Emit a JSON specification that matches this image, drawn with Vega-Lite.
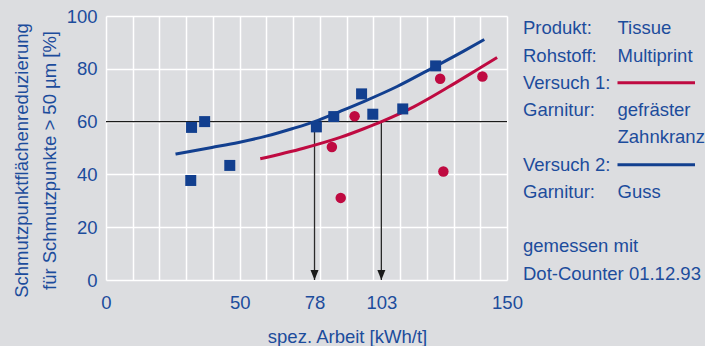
{
  "$schema": "https://vega.github.io/schema/vega-lite/v6.json",
  "background": "#dcdde0",
  "padding": {"left": 12, "top": 7, "right": 0, "bottom": 0},
  "spacing": 0,
  "config": {
    "view": {"stroke": null},
    "font": "Liberation Sans",
    "axis": {"labelFont": "Liberation Sans", "titleFont": "Liberation Sans"}
  },
  "datasets": {
    "points": [
      {"series": "Versuch 2", "x": 32.0, "y": 57.8},
      {"series": "Versuch 2", "x": 36.9, "y": 60.0},
      {"series": "Versuch 2", "x": 31.7, "y": 37.7},
      {"series": "Versuch 2", "x": 46.3, "y": 43.4},
      {"series": "Versuch 2", "x": 78.7, "y": 58.0},
      {"series": "Versuch 2", "x": 85.2, "y": 61.9},
      {"series": "Versuch 2", "x": 95.6, "y": 70.5},
      {"series": "Versuch 2", "x": 99.8, "y": 62.8},
      {"series": "Versuch 2", "x": 111.0, "y": 64.8},
      {"series": "Versuch 2", "x": 123.3, "y": 81.1},
      {"series": "Versuch 1", "x": 84.5, "y": 50.4},
      {"series": "Versuch 1", "x": 87.8, "y": 31.1},
      {"series": "Versuch 1", "x": 93.0, "y": 62.0},
      {"series": "Versuch 1", "x": 125.0, "y": 76.2},
      {"series": "Versuch 1", "x": 126.2, "y": 41.1},
      {"series": "Versuch 1", "x": 140.8, "y": 77.1}
    ],
    "fit": [
      {"series": "Versuch 2", "x": 26.0, "y": 47.7},
      {"series": "Versuch 2", "x": 39.6, "y": 50.2},
      {"series": "Versuch 2", "x": 49.6, "y": 52.1},
      {"series": "Versuch 2", "x": 59.9, "y": 54.5},
      {"series": "Versuch 2", "x": 69.6, "y": 57.3},
      {"series": "Versuch 2", "x": 78.0, "y": 60.0},
      {"series": "Versuch 2", "x": 87.6, "y": 63.9},
      {"series": "Versuch 2", "x": 96.4, "y": 67.6},
      {"series": "Versuch 2", "x": 108.9, "y": 73.3},
      {"series": "Versuch 2", "x": 121.3, "y": 79.9},
      {"series": "Versuch 2", "x": 133.8, "y": 86.7},
      {"series": "Versuch 2", "x": 141.5, "y": 91.1},
      {"series": "Versuch 1", "x": 57.7, "y": 45.9},
      {"series": "Versuch 1", "x": 73.9, "y": 49.9},
      {"series": "Versuch 1", "x": 87.6, "y": 54.0},
      {"series": "Versuch 1", "x": 96.4, "y": 57.3},
      {"series": "Versuch 1", "x": 103.5, "y": 60.2},
      {"series": "Versuch 1", "x": 115.1, "y": 65.6},
      {"series": "Versuch 1", "x": 127.6, "y": 72.8},
      {"series": "Versuch 1", "x": 140.0, "y": 80.4},
      {"series": "Versuch 1", "x": 146.3, "y": 84.3}
    ],
    "hline": [{"x": 0, "x2": 150, "y": 60}],
    "arrows": [{"x": 78, "y": 60, "y2": 0}, {"x": 103, "y": 60, "y2": 0}],
    "heads": [{"x": 78, "y": 0}, {"x": 103, "y": 0}],
    "legend": [
      {"line": 1, "col": "key", "text": "Produkt:"},
      {"line": 1, "col": "value", "text": "Tissue"},
      {"line": 2, "col": "key", "text": "Rohstoff:"},
      {"line": 2, "col": "value", "text": "Multiprint"},
      {"line": 3, "col": "key", "text": "Versuch 1:"},
      {"line": 4, "col": "key", "text": "Garnitur:"},
      {"line": 4, "col": "value", "text": "gefräster"},
      {"line": 5, "col": "value", "text": "Zahnkranz"},
      {"line": 6, "col": "key", "text": "Versuch 2:"},
      {"line": 7, "col": "key", "text": "Garnitur:"},
      {"line": 7, "col": "value", "text": "Guss"},
      {"line": 9, "col": "key", "text": "gemessen mit"},
      {"line": 10, "col": "key", "text": "Dot-Counter 01.12.93"}
    ],
    "legendlines": [
      {"line": 3, "from": "value", "to": "end", "series": "Versuch 1"},
      {"line": 6, "from": "value", "to": "end", "series": "Versuch 2"}
    ]
  },
  "hconcat": [
    {
      "width": 401,
      "height": 264,
      "encoding": {
        "x": {
          "field": "x", "type": "quantitative",
          "scale": {"domain": [0, 150], "nice": false, "zero": false},
          "axis": {
            "values": [0, 10, 20, 30, 40, 50, 60, 70, 80, 90, 100, 110, 120, 130, 140, 150, 78, 103],
            "labelExpr": "indexof([0, 50, 78, 103, 150], datum.value) >= 0 ? datum.label : ''",
            "gridColor": {"condition": {"test": "datum.value == 78 || datum.value == 103", "value": "transparent"}, "value": "#ffffff"},
            "gridWidth": 1.5,
            "gridOpacity": 1,
            "ticks": false,
            "domain": false,
            "labelPadding": 13.5,
            "labelFontSize": 18.5,
            "labelColor": "#1c4c9c",
            "labelOverlap": false,
            "labelFlush": false,
            "labelBound": false,
            "title": "spez. Arbeit [kWh/t]",
            "titleFontSize": 18.5,
            "titleFontWeight": "normal",
            "titleColor": "#1c4c9c",
            "titleX": 241,
            "titleY": 62,
            "titleAlign": "center",
            "titleBaseline": "alphabetic"
          }
        },
        "y": {
          "field": "y", "type": "quantitative",
          "scale": {"domain": [0, 100], "nice": false},
          "axis": {
            "values": [0, 20, 40, 60, 80, 100],
            "gridColor": "#ffffff",
            "gridWidth": 1.5,
            "gridOpacity": 1,
            "ticks": false,
            "domain": false,
            "labelPadding": 9,
            "labelFontSize": 18.5,
            "labelColor": "#1c4c9c",
            "labelFlush": false,
            "labelBound": false,
            "title": ["Schmutzpunktflächenreduzierung", "für Schmutzpunkte > 50 µm [%]"],
            "titleFontSize": 18.5,
            "titleFontWeight": "normal",
            "titleColor": "#1c4c9c",
            "titleAngle": -90,
            "titleX": -94,
            "titleY": 144,
            "titleAlign": "center",
            "titleBaseline": "top",
            "titleLineHeight": 28.5
          }
        }
      },
      "layer": [
        {
          "data": {"name": "hline"},
          "mark": {"type": "rule", "color": "#1a1a1a", "strokeWidth": 1.3},
          "encoding": {"x2": {"field": "x2"}}
        },
        {
          "data": {"name": "arrows"},
          "mark": {"type": "rule", "color": "#2a2a2a", "strokeWidth": 1.3},
          "encoding": {"y2": {"field": "y2"}}
        },
        {
          "data": {"name": "heads"},
          "mark": {"type": "point", "shape": "M-1,-2.5L1,-2.5L0,0Z", "filled": true, "size": 64, "color": "#1a1a1a", "opacity": 1}
        },
        {
          "data": {"name": "fit"},
          "mark": {"type": "line", "strokeWidth": 3, "interpolate": "monotone"},
          "encoding": {
            "color": {"field": "series", "type": "nominal", "scale": {"domain": ["Versuch 1", "Versuch 2"], "range": ["#bf0a41", "#123f8f"]}, "legend": null}
          }
        },
        {
          "data": {"name": "points"},
          "mark": {"type": "point", "filled": true, "opacity": 1},
          "encoding": {
            "color": {"field": "series", "type": "nominal", "scale": {"domain": ["Versuch 1", "Versuch 2"], "range": ["#bf0a41", "#123f8f"]}, "legend": null},
            "shape": {"field": "series", "type": "nominal", "scale": {"domain": ["Versuch 1", "Versuch 2"], "range": ["circle", "square"]}, "legend": null},
            "size": {"field": "series", "type": "nominal", "scale": {"domain": ["Versuch 1", "Versuch 2"], "range": [110, 121]}, "legend": null}
          }
        }
      ]
    },
    {
      "width": 155,
      "height": 270,
      "layer": [
        {
          "data": {"name": "legend"},
          "transform": [{"filter": "datum.col == 'key'"}],
          "mark": {"type": "text", "align": "left", "baseline": "middle", "fontSize": 18.5, "color": "#1c4c9c", "font": "Liberation Sans", "dx": -17},
          "encoding": {
            "x": {"field": "col", "type": "nominal", "scale": {"type": "point", "domain": ["key", "value", "end"], "padding": 0}, "axis": null},
            "y": {"field": "line", "type": "ordinal", "scale": {"type": "point", "domain": [1, 2, 3, 4, 5, 6, 7, 8, 9, 10], "padding": 0.45}, "axis": null},
            "text": {"field": "text"}
          }
        },
        {
          "data": {"name": "legend"},
          "transform": [{"filter": "datum.col == 'value'"}],
          "mark": {"type": "text", "align": "left", "baseline": "middle", "fontSize": 18.5, "color": "#1c4c9c", "font": "Liberation Sans"},
          "encoding": {
            "x": {"field": "col", "type": "nominal", "scale": {"type": "point", "domain": ["key", "value", "end"], "padding": 0}, "axis": null},
            "y": {"field": "line", "type": "ordinal", "scale": {"type": "point", "domain": [1, 2, 3, 4, 5, 6, 7, 8, 9, 10], "padding": 0.45}, "axis": null},
            "text": {"field": "text"}
          }
        },
        {
          "data": {"name": "legendlines"},
          "mark": {"type": "rule", "strokeWidth": 3},
          "encoding": {
            "x": {"field": "from", "type": "nominal", "scale": {"type": "point", "domain": ["key", "value", "end"], "padding": 0}, "axis": null},
            "x2": {"field": "to"},
            "y": {"field": "line", "type": "ordinal", "scale": {"type": "point", "domain": [1, 2, 3, 4, 5, 6, 7, 8, 9, 10], "padding": 0.45}, "axis": null},
            "color": {"field": "series", "type": "nominal", "scale": {"domain": ["Versuch 1", "Versuch 2"], "range": ["#bf0a41", "#123f8f"]}, "legend": null}
          }
        }
      ]
    }
  ]
}
